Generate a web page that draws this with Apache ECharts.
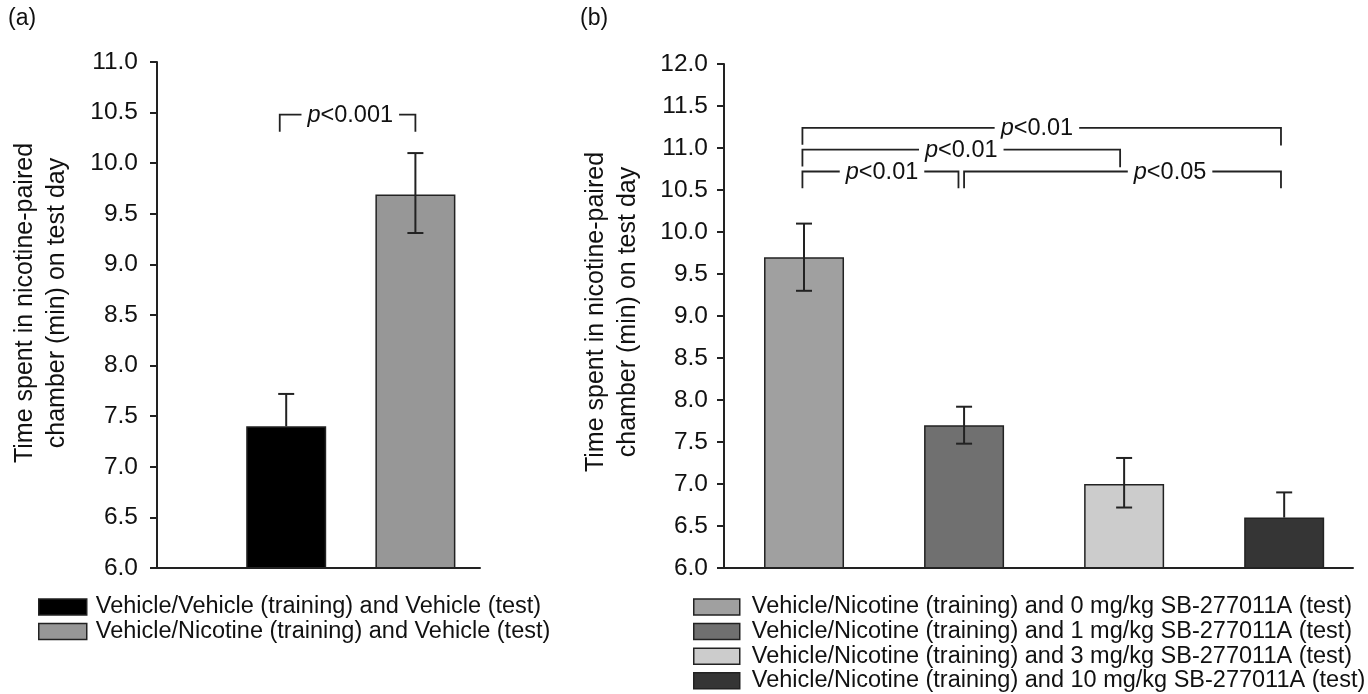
<!DOCTYPE html>
<html><head><meta charset="utf-8">
<script src="https://cdn.jsdelivr.net/npm/echarts@6/dist/echarts.min.js"></script>
<style>html,body{margin:0;padding:0;background:#fff}#c{width:1368px;height:694px}</style>
</head><body><div id="c"></div>
<script>
// ---------- Panel (a) data ----------
const catA = ['Vehicle/Vehicle (training) and Vehicle (test)', 'Vehicle/Nicotine (training) and Vehicle (test)'];
const posA = [1, 2];
const meanA = [7.4, 9.69];
const errHighA = [7.72, 10.1];
const errLowA = [null, 9.31];
const bracketsA = [[0.95, 2.0, 10.48, 10.31, 10.31]];
const bracketLabelsA = ['p<0.001'];
const bracketLabelFracA = [0.52];

// ---------- Panel (b) data ----------
const catB = [
  'Vehicle/Nicotine (training) and 0 mg/kg SB-277011A (test)',
  'Vehicle/Nicotine (training) and 1 mg/kg SB-277011A (test)',
  'Vehicle/Nicotine (training) and 3 mg/kg SB-277011A (test)',
  'Vehicle/Nicotine (training) and 10 mg/kg SB-277011A (test)'
];
const posB = [0.5, 1.5, 2.5, 3.5];
const meanB = [9.7, 7.7, 7.0, 6.6];
const errHighB = [10.1, 7.92, 7.31, 6.9];
const errLowB = [9.3, 7.48, 6.72, null];
const bracketsB = [
  [0.49, 3.48, 11.24, 11.04, 11.03],
  [0.49, 2.475, 10.98, 10.78, 10.77],
  [0.49, 1.465, 10.72, 10.52, 10.52],
  [1.50, 3.48, 10.72, 10.52, 10.52]
];
const bracketLabelsB = ['p<0.01', 'p<0.01', 'p<0.01', 'p<0.05'];
const bracketLabelFracB = [0.49, 0.5, 0.51, 0.65];

const yRangeA = [6, 11];
const yRangeB = [6, 12];
const yInterval = 0.5;
const yTitle = 'Time spent in nicotine-paired\nchamber (min) on test day';

// ---------- styles ----------
const colorsA = ['#000000', '#979797'];
const colorsB = ['#a0a0a0', '#707070', '#cccccc', '#353535'];
const FONT = '"Liberation Sans", Arial, Helvetica, sans-serif';
const INK = '#111';

const chart = echarts.init(document.getElementById('c'), null, {renderer: 'canvas'});

function bars(cats, pos, means, colors, gi) {
  return cats.map((name, i) => ({
    type: 'bar', name, xAxisIndex: gi, yAxisIndex: gi,
    data: [[pos[i], means[i]]],
    barWidth: 80, barGap: '-100%',
    itemStyle: {color: colors[i], borderColor: '#222', borderWidth: 1.5},
    silent: true, z: 2
  }));
}

function errors(pos, means, hi, lo, gi) {
  return {
    type: 'custom', xAxisIndex: gi, yAxisIndex: gi, silent: true, z: 5, clip: false,
    data: pos.map((p, i) => [p, lo[i] == null ? means[i] : lo[i], hi[i], lo[i] == null ? 0 : 1]),
    encode: {x: 0, y: [1, 2]},
    renderItem(params, api) {
      const x = api.value(0), l = api.value(1), h = api.value(2), hasLo = api.value(3);
      const pl = api.coord([x, l]), ph = api.coord([x, h]);
      const st = {stroke: '#222', lineWidth: 2};
      const hw = 8;
      const ch = [
        {type: 'line', shape: {x1: pl[0], y1: pl[1], x2: ph[0], y2: ph[1]}, style: st},
        {type: 'line', shape: {x1: ph[0] - hw, y1: ph[1], x2: ph[0] + hw, y2: ph[1]}, style: st}
      ];
      if (hasLo) ch.push({type: 'line', shape: {x1: pl[0] - hw, y1: pl[1], x2: pl[0] + hw, y2: pl[1]}, style: st});
      return {type: 'group', children: ch};
    }
  };
}

function brackets(list, labels, fracs, gi) {
  return {
    type: 'custom', xAxisIndex: gi, yAxisIndex: gi, silent: true, z: 6, clip: false,
    data: list,
    encode: {x: [0, 1], y: [2, 3, 4]},
    renderItem(params, api) {
      const i = params.dataIndex;
      const x1 = api.value(0), x2 = api.value(1), yt = api.value(2), yl = api.value(3), yr = api.value(4);
      const a = api.coord([x1, yl]), b = api.coord([x1, yt]), c = api.coord([x2, yt]), d = api.coord([x2, yr]);
      const tx = b[0] + fracs[i] * (c[0] - b[0]);
      const txt = labels[i].replace(/^p/, '{i|p}');
      return {type: 'group', children: [
        {type: 'polyline', shape: {points: [a, b, c, d]}, style: {stroke: '#222', lineWidth: 1.8, fill: null}},
        {type: 'text', x: tx, y: b[1] + 1, z2: 10, style: {
          text: txt, fill: INK, fontSize: 23.5, fontFamily: FONT,
          align: 'center', verticalAlign: 'middle',
          backgroundColor: '#fff', padding: [0, 6, 0, 6],
          rich: {i: {fontStyle: 'italic', fontSize: 23.5, fontFamily: FONT, fill: INK}}
        }}
      ]};
    }
  };
}

function yAxis(range, gi) {
  return {
    type: 'value', gridIndex: gi, min: range[0], max: range[1], interval: yInterval,
    axisLine: {show: true, lineStyle: {color: '#222', width: 2}},
    axisTick: {show: true, length: 7, lineStyle: {color: '#222', width: 2}},
    axisLabel: {fontSize: 24.5, color: INK, fontFamily: FONT, margin: gi === 0 ? 19 : 16,
      formatter: v => v.toFixed(1)},
    splitLine: {show: false}
  };
}

function xAxis(max, gi) {
  return {
    type: 'value', gridIndex: gi, min: 0, max: max, z: 3,
    axisLine: {show: true, onZero: false, lineStyle: {color: '#222', width: 2}},
    axisTick: {show: false}, axisLabel: {show: false}, splitLine: {show: false}
  };
}

function legend(cats, left, width, textPad) {
  return {
    data: cats, left: left, top: 595, orient: 'vertical', padding: 0,
    itemWidth: width, itemHeight: 16, itemGap: 0.6, icon: 'rect', selectedMode: false,
    itemStyle: {borderColor: '#222', borderWidth: 1.5},
    textStyle: {fontSize: 23.5, lineHeight: 24, color: INK, fontFamily: FONT, padding: [0, 0, 0, textPad]}
  };
}

const option = {
  animation: false,
  backgroundColor: '#fff',
  grid: [
    {left: 157, top: 62, width: 323, height: 506},
    {left: 724, top: 64, width: 629, height: 504}
  ],
  xAxis: [xAxis(2.5, 0), xAxis(3.93, 1)],
  yAxis: [yAxis(yRangeA, 0), yAxis(yRangeB, 1)],
  legend: [legend(catA, 38, 48, 4), legend(catB, 693, 46, 7)],
  graphic: [
    {type: 'text', left: 8, top: 7, style: {text: '(a)', fontSize: 23, fontFamily: FONT, fill: INK}},
    {type: 'text', left: 580, top: 7, style: {text: '(b)', fontSize: 23, fontFamily: FONT, fill: INK}},
    {type: 'text', x: 41, y: 303, rotation: Math.PI / 2, style: {text: yTitle, fontSize: 25, lineHeight: 32,
      fontFamily: FONT, fill: INK, align: 'center', verticalAlign: 'middle'}},
    {type: 'text', x: 612, y: 312, rotation: Math.PI / 2, style: {text: yTitle, fontSize: 25, lineHeight: 32,
      fontFamily: FONT, fill: INK, align: 'center', verticalAlign: 'middle'}}
  ],
  series: [
    ...bars(catA, posA, meanA, colorsA, 0),
    ...bars(catB, posB, meanB, colorsB, 1),
    errors(posA, meanA, errHighA, errLowA, 0),
    errors(posB, meanB, errHighB, errLowB, 1),
    brackets(bracketsA, bracketLabelsA, bracketLabelFracA, 0),
    brackets(bracketsB, bracketLabelsB, bracketLabelFracB, 1)
  ]
};
chart.setOption(option);
</script>
</body></html>
